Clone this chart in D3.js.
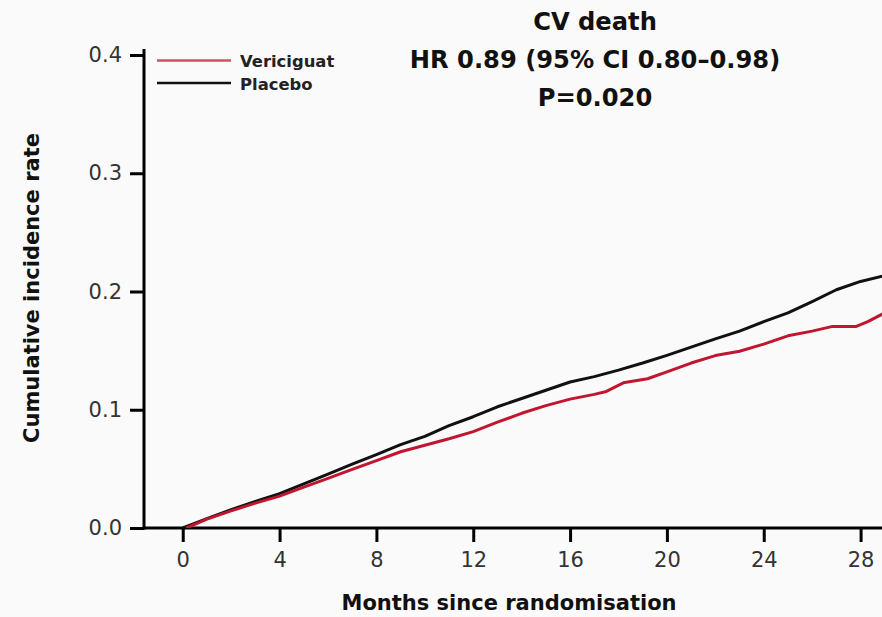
<!DOCTYPE html>
<html>
<head>
<meta charset="utf-8">
<script src="https://cdn.jsdelivr.net/npm/d3@7"></script>
<style>
  html, body { margin: 0; padding: 0; background: #fafafa; }
  svg { display: block; font-family: "DejaVu Sans", sans-serif; }
</style>
</head>
<body>
<svg id="chart" width="882" height="617"></svg>
<script>
// Cumulative incidence of CV death by arm (months since randomisation)
const placeboMonths = [0, 1, 2, 3, 4, 5, 6, 7, 8, 9, 10, 11, 12, 13, 14, 15, 16, 17, 18, 19, 20, 21, 22, 23, 24, 25, 26, 27, 28, 29];
const placeboRate   = [0, 0.008, 0.0155, 0.0225, 0.029, 0.0373, 0.0456, 0.054, 0.062, 0.0705, 0.0775, 0.0865, 0.0941, 0.1025, 0.1095, 0.1165, 0.1235, 0.128, 0.1335, 0.1395, 0.146, 0.153, 0.16, 0.1665, 0.1745, 0.182, 0.1915, 0.2015, 0.2085, 0.2135];

const vericiguatMonths = [0.15, 1, 2, 3, 4, 5, 6, 7, 8, 9, 10, 11, 12, 13, 14, 15, 16, 17, 17.5, 18.2, 19.2, 20, 21, 22, 23, 24, 25, 26, 26.8, 27.8, 28.3, 29];
const vericiguatRate   = [0, 0.0075, 0.0145, 0.021, 0.027, 0.0345, 0.042, 0.0495, 0.057, 0.0645, 0.070, 0.0755, 0.0815, 0.0895, 0.097, 0.1035, 0.109, 0.113, 0.1155, 0.1228, 0.1262, 0.132, 0.1395, 0.1458, 0.1495, 0.1555, 0.1625, 0.1665, 0.1703, 0.1703, 0.1745, 0.182];

const xTicks = [0, 4, 8, 12, 16, 20, 24, 28];
const yTicks = [0, 0.1, 0.2, 0.3, 0.4];

const titleLines = ["CV death", "HR 0.89 (95% CI 0.80\u20130.98)", "P=0.020"];
const seriesNames = ["Vericiguat", "Placebo"];
const seriesColors = ["#c1162f", "#111111"];

const svg = d3.select("#chart");

const x = d3.scaleLinear().domain([-1.6, 29.05]).range([144, 886]);
const y = d3.scaleLinear().domain([0, 0.4]).range([528, 55]);

svg.append("defs").append("clipPath").attr("id", "plotClip")
  .append("rect").attr("x", 144).attr("y", 0).attr("width", 738).attr("height", 528);

// Axes
const xAxis = d3.axisBottom(x).tickValues(xTicks).tickSize(14).tickSizeOuter(0).tickPadding(10)
  .tickFormat(d3.format("d"));
const gx = svg.append("g").attr("transform", `translate(0,${y(0)})`).call(xAxis);

const yAxis = d3.axisLeft(y).tickValues(yTicks).tickSize(14).tickSizeOuter(0).tickPadding(8)
  .tickFormat(d3.format(".1f"));
const gy = svg.append("g").attr("transform", `translate(${x(-1.6)},0)`).call(yAxis);

[gx, gy].forEach(g => {
  g.attr("font-family", "DejaVu Sans, sans-serif").attr("font-size", 21);
  g.select(".domain").remove();
  g.selectAll(".tick line").attr("stroke", "#000").attr("stroke-width", 3);
  g.selectAll(".tick text").attr("fill", "#333");
});

// axis lines
svg.append("line").attr("x1", x(-1.6)).attr("x2", 882).attr("y1", y(0)).attr("y2", y(0))
  .attr("stroke", "#000").attr("stroke-width", 3);
svg.append("line").attr("x1", x(-1.6)).attr("x2", x(-1.6)).attr("y1", y(0) + 1.5).attr("y2", y(0.4) - 6)
  .attr("stroke", "#000").attr("stroke-width", 3);

// Curves
const line = d3.line().x(d => x(d[0])).y(d => y(d[1]));
const placeboData = placeboMonths.map((m, i) => [m, placeboRate[i]]);
const vericiguatData = vericiguatMonths.map((m, i) => [m, vericiguatRate[i]]);

const plot = svg.append("g").attr("clip-path", "url(#plotClip)");
plot.append("path").datum(placeboData).attr("d", line)
  .attr("fill", "none").attr("stroke", seriesColors[1]).attr("stroke-width", 3)
  .attr("stroke-linejoin", "round");
plot.append("path").datum(vericiguatData).attr("d", line)
  .attr("fill", "none").attr("stroke", seriesColors[0]).attr("stroke-width", 3)
  .attr("stroke-linejoin", "round");

// Axis titles
svg.append("text").attr("x", 509).attr("y", 610).attr("text-anchor", "middle")
  .style("font-size", "21px").style("font-weight", "bold").attr("fill", "#111")
  .text("Months since randomisation");
svg.append("text").attr("transform", "translate(39,288) rotate(-90)").attr("text-anchor", "middle")
  .style("font-size", "21px").style("font-weight", "bold").attr("fill", "#111")
  .text("Cumulative incidence rate");

// Title block
svg.append("g").selectAll("text").data(titleLines).join("text")
  .attr("x", 595).attr("y", (d, i) => 30 + i * 38).attr("text-anchor", "middle")
  .style("font-size", "24.2px").style("font-weight", "bold").attr("fill", "#111")
  .text(d => d);

// Legend
const legend = svg.append("g");
seriesNames.forEach((name, i) => {
  const ly = 60.5 + i * 22.5;
  legend.append("line").attr("x1", 157).attr("x2", 231).attr("y1", ly).attr("y2", ly)
    .attr("stroke", seriesColors[i]).attr("stroke-width", 2.5).attr("stroke-opacity", i === 0 ? 0.75 : 1);
  legend.append("text").attr("x", 240).attr("y", ly + 6.5)
    .style("font-size", "16.4px").style("font-weight", "bold").attr("fill", "#222")
    .text(name);
});
</script>
</body>
</html>
